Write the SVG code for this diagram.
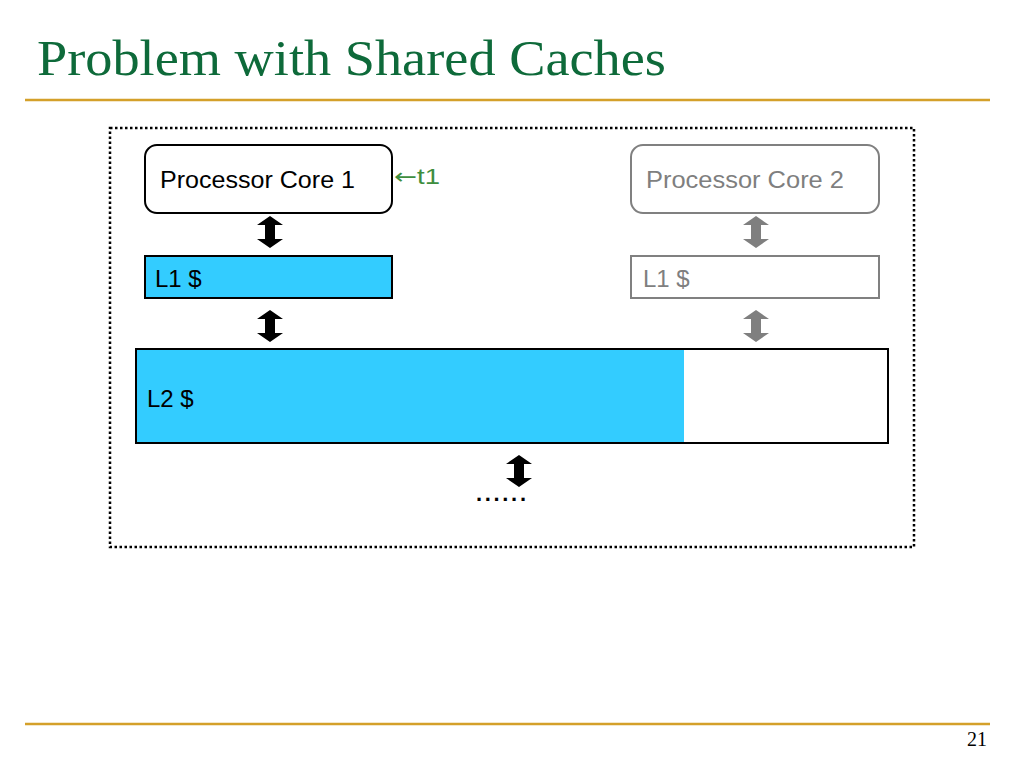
<svg xmlns="http://www.w3.org/2000/svg" width="1024" height="768" viewBox="0 0 1024 768">
  <style>
    .title { font-family: "Liberation Serif", "Times New Roman", serif; font-size: 50px; fill: #0E6A3A; }
    .lbl { font-family: "Liberation Sans", Arial, sans-serif; font-size: 24px; fill: #000; }
    .gray { fill: #7F7F7F; }
    .rule { stroke: #D4A02A; stroke-width: 2.5; }
    .blk { stroke: #000; stroke-width: 2; }
    .gry { stroke: #808080; stroke-width: 2; }
  </style>
  <defs>
    <path id="dbl" d="M0,0 L13,9 L5,9 L5,23 L13,23 L0,32 L-13,23 L-5,23 L-5,9 L-13,9 Z"/>
  </defs>
  <rect width="1024" height="768" fill="#FFFFFF"/>

  <text class="title" x="37" y="75" textLength="629" lengthAdjust="spacingAndGlyphs">Problem with Shared Caches</text>
  <line class="rule" x1="25" y1="100" x2="990" y2="100"/>
  <line class="rule" x1="25" y1="724" x2="990" y2="724"/>
  <text x="987" y="746" text-anchor="end" font-family="Liberation Serif, serif" font-size="20" fill="#000">21</text>

  <rect x="110" y="128" width="804" height="419" fill="none" stroke="#000" stroke-width="2.5" stroke-dasharray="2.5 2.5"/>

  <g id="core1">
    <rect x="145" y="145" width="247" height="68" rx="12" fill="#FFFFFF" class="blk"/>
    <text class="lbl" x="160" y="188" textLength="195" lengthAdjust="spacingAndGlyphs">Processor Core 1</text>
  </g>
  <g id="t1label">
    <text x="394" y="184" font-family="Liberation Sans, Arial, sans-serif" font-size="22" fill="#3E8E3E" textLength="46" lengthAdjust="spacingAndGlyphs"><tspan font-family="DejaVu Sans, sans-serif">←</tspan>t1</text>
  </g>
  <g id="core2">
    <rect x="631" y="145" width="248" height="68" rx="12" fill="#FFFFFF" class="gry"/>
    <text class="lbl gray" x="646" y="188" textLength="198" lengthAdjust="spacingAndGlyphs">Processor Core 2</text>
  </g>
  <g id="l1a">
    <rect x="145" y="256" width="247" height="42" fill="#33CCFF" class="blk"/>
    <text class="lbl" x="155" y="287">L1 $</text>
  </g>
  <g id="l1b">
    <rect x="631" y="256" width="248" height="42" fill="#FFFFFF" class="gry"/>
    <text class="lbl gray" x="643" y="287">L1 $</text>
  </g>
  <g id="l2">
    <rect x="136" y="349" width="752" height="94" fill="#FFFFFF"/>
    <rect x="136" y="349" width="548" height="94" fill="#33CCFF"/>
    <rect x="136" y="349" width="752" height="94" fill="none" class="blk"/>
    <text class="lbl" x="147" y="407">L2 $</text>
  </g>
  <g id="more">
    <text x="476" y="501" font-family="Liberation Sans, Arial, sans-serif" font-size="22" font-weight="bold" fill="#000" textLength="50" lengthAdjust="spacing">......</text>
  </g>

  <g id="connectors">
    <use href="#dbl" x="270" y="216" fill="#000"/>
    <use href="#dbl" x="270" y="310" fill="#000"/>
    <use href="#dbl" x="756" y="216" fill="#7F7F7F"/>
    <use href="#dbl" x="756" y="310" fill="#7F7F7F"/>
    <use href="#dbl" x="519" y="455" fill="#000"/>
  </g>
</svg>
